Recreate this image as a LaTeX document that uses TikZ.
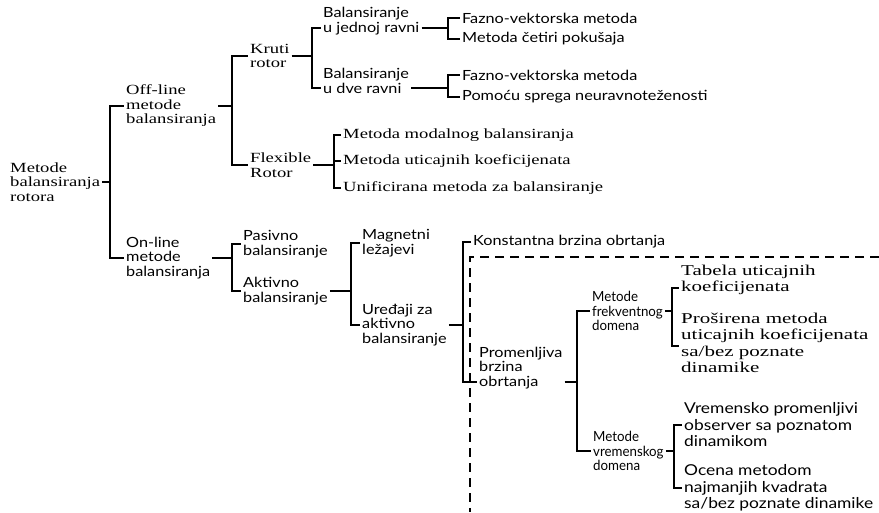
\documentclass[tikz,border=0pt]{standalone}
\usepackage{fontspec}
\setmainfont{Liberation Serif}[FakeStretch=1.33]
\setsansfont{Lato}[FakeStretch=1.16]
\newfontfamily\widerm{Liberation Serif}[FakeStretch=1.4]
\newfontfamily\narrowsf{Lato}[FakeStretch=0.95]
% fork: stub from a parent point to a vertical bar at x = #2, then a tick to each child point
\newcommand\fork[3]{%
  \coordinate (fk) at (#2,0);
  \draw[link] (#1) -- (fk |- #1);
  \foreach \c in {#3}{\draw[link] (fk |- #1) |- (\c);}
}
\begin{document}
\begin{tikzpicture}[x=1pt,y=-1pt,
  base/.style={anchor=west, align=left, inner xsep=2pt, inner ysep=0pt},
  rmlbl/.style={base, font=\rmfamily\fontsize{14}{14.5}\selectfont},
  sflbl/.style={base, font=\sffamily\fontsize{14}{14.5}\selectfont},
  narrowlbl/.style={base, font=\narrowsf\fontsize{14}{14.5}\selectfont},
  bigrmlbl/.style={base, font=\widerm\fontsize{15}{16.5}\selectfont},
  bigsflbl/.style={base, font=\sffamily\fontsize{15}{16.5}\selectfont},
  link/.style={line width=1.3pt},
  dashline/.style={line width=1.3pt, dash pattern=on 9pt off 6pt}]
\useasboundingbox (0,0) rectangle (879,512);
\fill[white] (0,0) rectangle (879,512);

% tree labels
\node[rmlbl] (root)  at (8,182)   {Metode\\balansiranja\\rotora};
\node[rmlbl] (off)   at (124,106) {Off-line\\metode\\balansiranja};
\node[sflbl] (on)    at (124,258) {On-line\\metode\\balansiranja};
\node[rmlbl] (kruti) at (248,56)  {Kruti\\rotor};
\node[rmlbl] (flex)  at (248,165) {Flexible\\Rotor};
\node[sflbl] (bal1)  at (321,21)  {Balansiranje\\u jednoj ravni};
\node[sflbl] (bal2)  at (321,81)  {Balansiranje\\u dve ravni};
\node[sflbl] (fv1)   at (460,18)  {Fazno-vektorska metoda};
\node[sflbl] (m4)    at (460,39)  {Metoda četiri pokušaja};
\node[sflbl] (fv2)   at (460,75)  {Fazno-vektorska metoda};
\node[sflbl] (pom)   at (460,97)  {Pomoću sprega neuravnoteženosti};
\node[rmlbl] (mod)   at (341,135) {Metoda modalnog balansiranja};
\node[rmlbl] (utic)  at (341,161) {Metoda uticajnih koeficijenata};
\node[rmlbl] (unif)  at (341,188) {Unificirana metoda za balansiranje};
\node[sflbl] (pas)   at (241,244) {Pasivno\\balansiranje};
\node[sflbl] (akt)   at (241,291) {Aktivno\\balansiranje};
\node[sflbl] (mag)   at (360,243) {Magnetni\\ležajevi};
\node[sflbl] (ured)  at (360,325) {Uređaji za\\aktivno\\balansiranje};
\node[sflbl] (konst) at (471,242) {Konstantna brzina obrtanja};
\node[sflbl] (prom)  at (477,368) {Promenljiva\\brzina\\obrtanja};
\node[narrowlbl] (mfd) at (590,311) {Metode\\frekventnog\\domena};
\node[narrowlbl] (mvd) at (591,451) {Metode\\vremenskog\\domena};
\node[bigrmlbl] (tab)  at (679,280) {Tabela uticajnih\\koeficijenata};
\node[bigrmlbl] (pros) at (679,343) {Proširena metoda\\uticajnih koeficijenata\\sa/bez poznate\\dinamike};
\node[bigsflbl] (vrem)  at (682,425) {Vremensko promenljivi\\observer sa poznatom\\dinamikom};
\node[bigsflbl] (ocena) at (682,488) {Ocena metodom\\najmanjih kvadrata\\sa/bez poznate dinamike};

% attachment points on particular text lines
\coordinate (bal1-w) at ([yshift=-7pt]bal1.west);
\coordinate (bal1-e) at ([yshift=-7pt]bal1.east);
\coordinate (bal2-w) at ([yshift=-7pt]bal2.west);
\coordinate (bal2-e) at ([yshift=-7pt]bal2.east);
\coordinate (prom-w) at ([yshift=-14pt]prom.west);
\coordinate (prom-e) at ([yshift=-14pt]prom.east);
\coordinate (tab-w)  at ([yshift=-8pt]tab.west);
\coordinate (pros-w) at ([yshift=-3pt]pros.west);

% connectors
\fork{root.east}{110}{off.west,on.west}
\fork{off.east}{232}{kruti.west,flex.west}
\fork{kruti.east}{312}{bal1-w,bal2-w}
\fork{bal1-e}{448}{fv1.west,m4.west}
\fork{bal2-e}{448}{fv2.west,pom.west}
\fork{flex.east}{334}{mod.west,utic.west,unif.west}
\fork{on.east}{232}{pas.west,akt.west}
\fork{akt.east}{351}{mag.west,ured.west}
\fork{ured.east}{463}{konst.west,prom-w}
\fork{prom-e}{577}{mfd.west,mvd.west}
\fork{mfd.east}{672}{tab-w,pros-w}
\fork{mvd.east}{674}{vrem.west,ocena.west}

% dashed frame around the variable-speed branch
\coordinate (dc) at (470,257);
\draw[dashline] (879,257) -- (dc) -- (470,512);
\end{tikzpicture}
\end{document}
